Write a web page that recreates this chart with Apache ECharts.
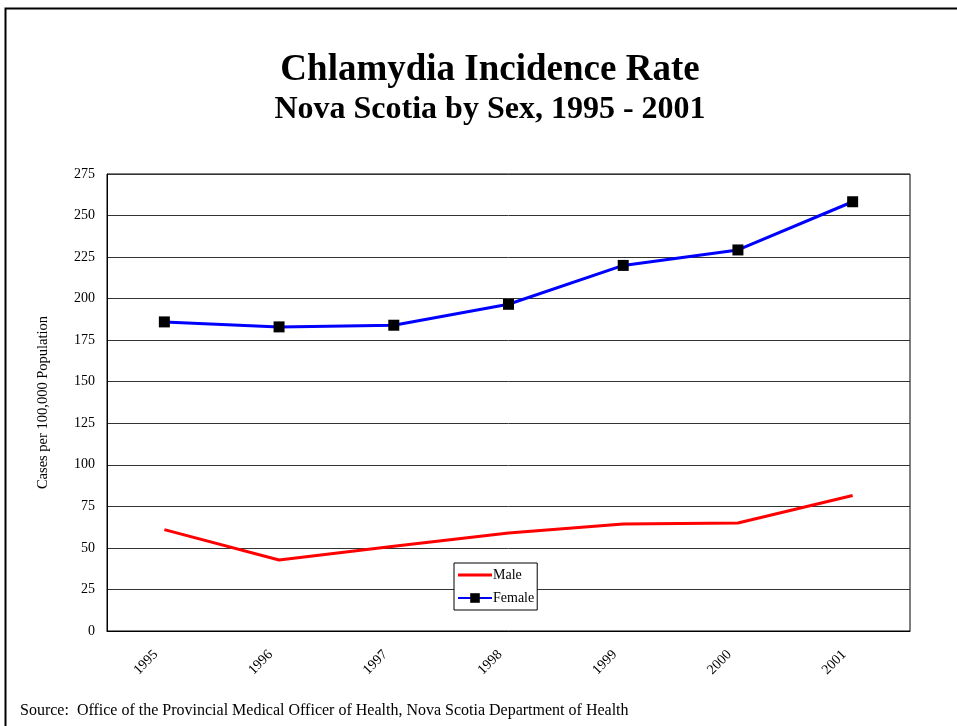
<!DOCTYPE html>
<html><head><meta charset="utf-8">
<script src="https://cdn.jsdelivr.net/npm/echarts@6/dist/echarts.min.js"></script>
<style>html,body{margin:0;padding:0;background:#fff}#c{width:957px;height:726px}</style>
</head><body><div id="c"></div>
<script>
const years = ['1995','1996','1997','1998','1999','2000','2001'];
const male = [61, 42.7, 51, 59, 64.4, 65, 81.5];
const female = [186, 183, 184, 196.6, 220, 229.3, 258.3];
const yTicks = [0, 25, 50, 75, 100, 125, 150, 175, 200, 225, 250, 275];
const F = 'Liberation Serif';
const chart = echarts.init(document.getElementById('c'), null, {renderer:'canvas'});
chart.setOption({
  backgroundColor:'#fff',
  animation:false,
  title:[
    {text:'Chlamydia Incidence Rate', left:485, top:47, textAlign:'center',
     textStyle:{fontFamily:F, fontSize:37, fontWeight:'bold', color:'#000'}},
    {text:'Nova Scotia by Sex, 1995 - 2001', left:485, top:89, textAlign:'center',
     textStyle:{fontFamily:F, fontSize:32, fontWeight:'bold', color:'#000'}},
    {text:'Source:  Office of the Provincial Medical Officer of Health, Nova Scotia Department of Health',
     left:15, top:698, textStyle:{fontFamily:F, fontSize:16, fontWeight:'normal', color:'#000'}}
  ],
  graphic:[{type:'rect', shape:{x:5.5, y:8.5, width:960, height:730}, style:{fill:null, stroke:'#000', lineWidth:2}, silent:true}],
  legend:{
    left:454, top:563, orient:'vertical', itemGap:9, itemWidth:34, itemHeight:12,
    backgroundColor:'#fff', borderColor:'#000', borderWidth:1, padding:[5,3,5,3],
    textStyle:{fontFamily:F, fontSize:14, color:'#000', padding:[0,0,0,-4]},
    data:[{name:'Male', icon:'path://M0,0 L34,0 L34,3 L0,3 Z'}, {name:'Female'}]
  },
  grid:{left:107, right:47, top:174, bottom:95, show:true, borderColor:'#000', borderWidth:1, containLabel:false},
  xAxis:{type:'category', data:years, boundaryGap:true,
    axisLine:{show:true, lineStyle:{color:'#000'}}, axisTick:{show:false},
    axisLabel:{rotate:45, margin:13, padding:[0,12,0,0], fontFamily:F, fontSize:14, color:'#000'}},
  yAxis:{type:'value', min:0, max:275, interval:25,
    name:'Cases per 100,000 Population', nameLocation:'middle', nameGap:56, nameRotate:90,
    nameTextStyle:{fontFamily:F, fontSize:14.5, color:'#000'},
    axisLine:{show:true, lineStyle:{color:'#000'}}, axisTick:{show:false},
    axisLabel:{fontFamily:F, fontSize:14, color:'#000', margin:12,
      formatter:v => yTicks.includes(v) ? String(v) : ''},
    splitLine:{show:true, lineStyle:{color:'#333', width:1}}},
  series:[
    {name:'Male', type:'line', data:male, symbol:'none', color:'#ff0000',
     lineStyle:{color:'#ff0000', width:3}},
    {name:'Female', type:'line', data:female, symbol:'rect', symbolSize:11, color:'#0000ff',
     itemStyle:{color:'#000'}, lineStyle:{color:'#0000ff', width:3}}
  ]
});
</script></body></html>
